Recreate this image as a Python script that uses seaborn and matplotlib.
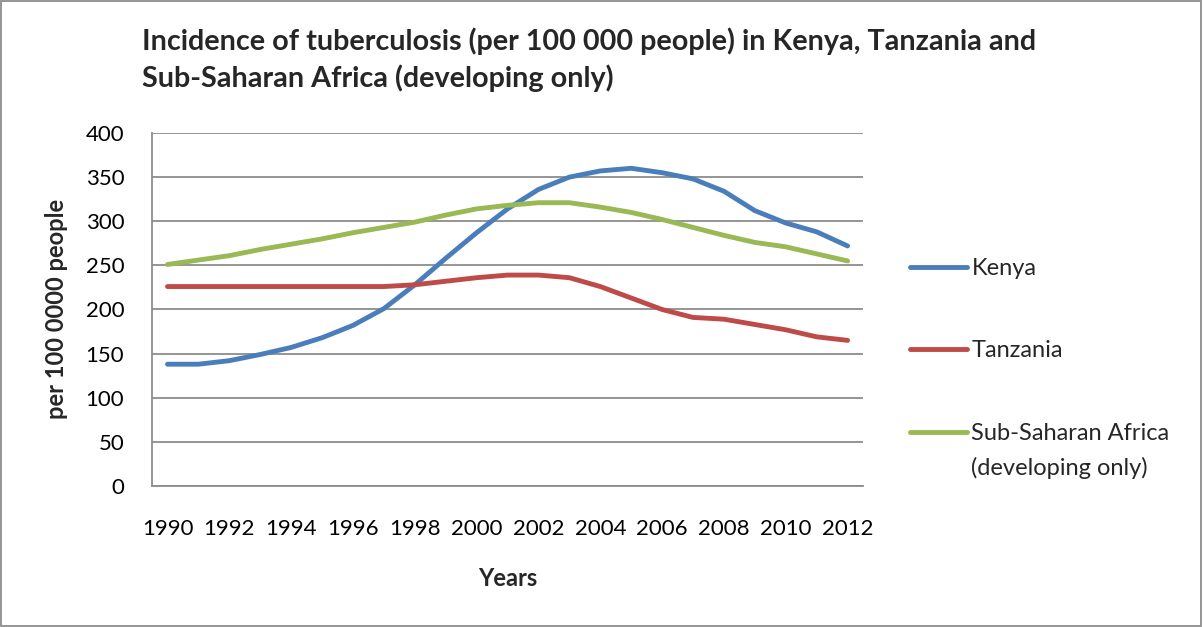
import matplotlib
matplotlib.use("Agg")
import matplotlib.pyplot as plt
import seaborn as sns
import pandas as pd
from matplotlib.patches import Rectangle

years = list(range(1990, 2013))
kenya = [138, 138, 142, 149, 157, 168, 182, 201, 228, 258, 287, 314, 336, 350, 357, 360, 355, 348, 334, 312, 298, 288, 272]
tanzania = [226, 226, 226, 226, 226, 226, 226, 226, 228, 232, 236, 239, 239, 236, 226, 213, 200, 191, 189, 183, 177, 169, 165]
ssa = [251, 256, 261, 268, 274, 280, 287, 293, 299, 307, 314, 318, 321, 321, 316, 310, 302, 293, 284, 276, 271, 263, 255]
series_names = ["Kenya", "Tanzania", "Sub-Saharan Africa"]
ssa_second_line = "(developing only)"
colors = ["#4A7EBB", "#BE4B48", "#98B954"]
y_ticks = [0, 50, 100, 150, 200, 250, 300, 350, 400]
x_ticks = list(range(1990, 2013, 2))

title = "Incidence of tuberculosis (per 100 000 people) in Kenya, Tanzania and\nSub-Saharan Africa (developing only)"
x_label = "Years"
y_label = "per 100 0000 people"

df = pd.DataFrame({
    "Year": years * 3,
    "Value": kenya + tanzania + ssa,
    "Series": [series_names[0]] * len(years) + [series_names[1]] * len(years) + [series_names[2]] * len(years),
})

sns.set_theme(style="white")
plt.rcParams["font.family"] = ["Lato", "DejaVu Sans"]

fig = plt.figure(figsize=(12.03, 6.27), dpi=100)
ax = fig.add_axes([0.1264, 0.2249, 0.5910, 0.5630])

sns.lineplot(data=df, x="Year", y="Value", hue="Series", palette=colors,
             linewidth=3.5, ax=ax, legend=True, solid_capstyle="round")

ax.set_xlim(1989.5, 2012.5)
ax.set_ylim(0, 400)
ax.set_yticks(y_ticks)
ax.set_xticks(x_ticks)
ax.set_xticklabels([str(x) for x in x_ticks], fontsize=16)
ax.set_yticklabels([str(y) for y in y_ticks], fontsize=16)
ax.tick_params(axis="x", pad=24, length=0, colors="black")
ax.tick_params(axis="y", pad=20, length=0, colors="black")
ax.yaxis.grid(True, color="#8C8C8C", linewidth=1.3)
ax.set_axisbelow(True)
for s in ["top", "right"]:
    ax.spines[s].set_visible(False)
for s in ["left", "bottom"]:
    ax.spines[s].set_color("#8C8C8C")
    ax.spines[s].set_linewidth(1.3)

ax.set_xlabel("")
ax.set_ylabel("")
fig.text(508 / 1203, 1 - 579 / 627, x_label, fontsize=17, fontweight="bold", ha="center", va="center")
fig.text(57 / 1203, 1 - 309 / 627, y_label, fontsize=17, fontweight="bold", ha="center", va="center", rotation=90)
fig.text(142 / 1203, 1 - 27 / 627, title, fontsize=20.7, fontweight="bold", ha="left", va="top", linespacing=1.45)

leg = ax.legend(loc="upper left", bbox_to_anchor=(910 / 1203, 1 - 258 / 627), bbox_transform=fig.transFigure,
                frameon=False, fontsize=17, handlelength=2.4, handletextpad=0.2, labelspacing=2.6,
                borderaxespad=0, borderpad=0)
for line in leg.get_lines():
    line.set_linewidth(3.5)
    line.set_solid_capstyle("round")

# second line of the last legend label, aligned under its first line
fig.canvas.draw()
renderer = fig.canvas.get_renderer()
last_txt = leg.get_texts()[-1]
bb = last_txt.get_window_extent(renderer)
inv = fig.transFigure.inverted()
x0, y0 = inv.transform((bb.x0, bb.y0))
fig.text(x0, y0 - 13 / 627, ssa_second_line, fontsize=17, ha="left", va="top")

fig.add_artist(Rectangle((0.001, 0.001), 0.997, 0.997, transform=fig.transFigure, fill=False,
                         edgecolor="#8C8C8C", linewidth=1.3))

fig.savefig("out.png", dpi=100)
